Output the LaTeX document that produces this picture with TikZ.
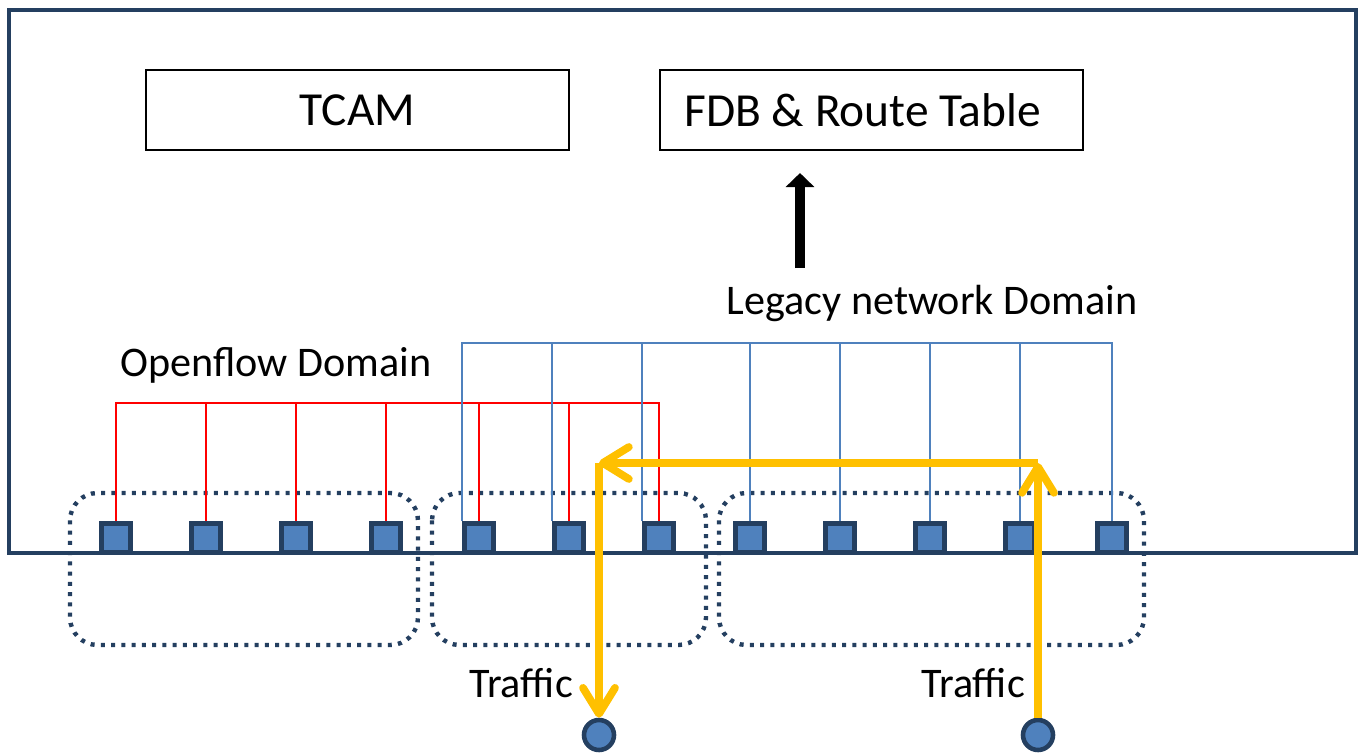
\documentclass[tikz,border=0pt]{standalone}
\usepackage{fontspec}
\setmainfont{Carlito}
\usepackage{tikz}
\usetikzlibrary{arrows.meta, positioning, calc}

\definecolor{navy}{RGB}{36,63,96}
\definecolor{portblue}{RGB}{79,129,189}
\definecolor{trafficyellow}{RGB}{255,192,0}

\begin{document}
\begin{tikzpicture}[
    x=0.02cm, y=-0.02cm,
    tbl/.style={draw, line width=1.2pt, minimum width=8.46cm, minimum height=1.6cm,
                font=\fontsize{27}{32}\selectfont},
    lbl/.style={inner sep=0pt, font=\fontsize{24}{29}\selectfont},
    port/.style={draw=navy, fill=portblue, line width=2.8pt, minimum size=0.58cm,
                 inner sep=0pt},
    host/.style={circle, draw=navy, fill=portblue, line width=2.6pt,
                 minimum size=0.6cm, inner sep=0pt},
    grp/.style={draw=navy, line width=2.5pt, dash pattern=on 0.08cm off 0.125cm,
                rounded corners=0.55cm},
    ofline/.style={draw=red, line width=1.1pt},
    lgline/.style={draw=portblue, line width=0.9pt},
    flow/.style={draw=trafficyellow, line width=4.4pt,
                 -{Straight Barb[length=0.52cm, width=0.64cm, round]}},
    uparrow/.style={draw=black, line width=6.2pt, -{Triangle[length=0.28cm, width=0.56cm]}},
]
  \useasboundingbox (0,0) rectangle (1365,753);

  % switch body
  \draw[navy, line width=2.8pt] (9,10) rectangle (1356,553);

  % tables
  \node[tbl] (tcam) at (357.5,110) {TCAM};
  \node[tbl] (fdb) at (871.5,110) {FDB \& Route Table\hspace*{0.35cm}};

  % port groups
  \draw[grp] (70,493) rectangle (418,645);
  \draw[grp] (432,493) rectangle (706,645);
  \draw[grp] (719,493) rectangle (1144,645);

  % ports
  \foreach \x [count=\i] in {116,206,296,386,479,569,659,750,840,930,1020,1112}
    \node[port] (p\i) at (\x,538) {};

  % domains
  \node[lbl] (ofdom) at (276,365) {Openflow Domain};
  \node[lbl] (lgdom) at (932,303) {Legacy network Domain};

  \coordinate (rbus) at (0,403);
  \coordinate (bbus) at (0,343);

  \draw[ofline] (p1.north) |- (p7.north |- rbus) -- (p7.north);
  \foreach \i in {2,...,6}
    \draw[ofline] (p\i.north) -- (p\i.north |- rbus);

  \draw[lgline] (p5.north west) |- (p12.north |- bbus) -- (p12.north);
  \foreach \i in {6,7}
    \draw[lgline] (p\i.north west) -- (p\i.north west |- bbus);
  \foreach \i in {8,...,11}
    \draw[lgline] (p\i.north) -- (p\i.north |- bbus);

  \coordinate (lgtop) at (800,268);
  \draw[uparrow] (lgtop) -- (lgtop |- fdb.south) [shorten >=0.44cm];

  % traffic
  \node[host] (srcR) at (1038,735) {};
  \node[host] (dstL) at (599,735) {};
  \coordinate (turnR) at (1038,463);
  \coordinate (turnL) at (599,463);
  \draw[flow] (srcR) -- (turnR);
  \draw[flow] (turnR) -- (turnL);
  \draw[flow] (turnL) -- (dstL);

  \node[lbl] (trL) at (521,683) {Traffic};
  \node[lbl] (trR) at (973,683) {Traffic};
\end{tikzpicture}
\end{document}
